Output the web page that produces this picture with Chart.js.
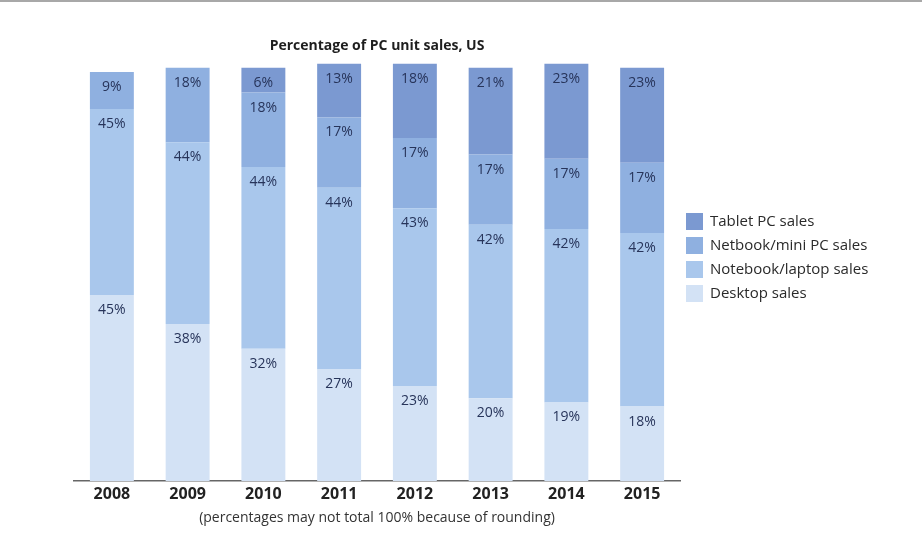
<!DOCTYPE html>
<html>
<head>
<meta charset="utf-8">
<script src="https://cdn.jsdelivr.net/npm/chart.js@4"></script>
<style>
  html, body { margin: 0; padding: 0; background: #fff; }
  .topline { position: absolute; left: 0; top: 0; width: 922px; height: 2px; background: #a8a8a8; }
  #wrap { width: 922px; height: 534px; }
</style>
</head>
<body>
<div class="topline"></div>
<div id="wrap"><canvas id="pcChart" width="922" height="534"></canvas></div>
<script>
// Years and shares of US PC unit sales (%), stacked bottom to top
const years = ['2008', '2009', '2010', '2011', '2012', '2013', '2014', '2015'];
const desktop = [45, 38, 32, 27, 23, 20, 19, 18];
const notebook = [45, 44, 44, 44, 43, 42, 42, 42];
const netbook = [9, 18, 18, 17, 17, 17, 17, 17];
const tablet = [null, null, 6, 13, 18, 21, 23, 23];

const seriesNames = ['Desktop sales', 'Notebook/laptop sales', 'Netbook/mini PC sales', 'Tablet PC sales'];
const seriesColors = ['#d3e2f5', '#a9c7ec', '#8fb0e0', '#7b99d1'];

const FONT = '"Open Sans", "Noto Sans", sans-serif';

// percentage text near the top of every segment
const segmentLabels = {
  id: 'segmentLabels',
  afterDatasetsDraw(chart) {
    const ctx = chart.ctx;
    ctx.save();
    ctx.font = '14px ' + FONT;
    ctx.fillStyle = '#27345a';
    ctx.textAlign = 'center';
    ctx.textBaseline = 'middle';
    chart.data.datasets.forEach((ds, i) => {
      chart.getDatasetMeta(i).data.forEach((bar, j) => {
        const v = ds.data[j];
        if (v == null) return;
        ctx.fillText(v + '%', bar.x, bar.y + 15);
      });
    });
    ctx.restore();
  }
};

// legend on the right, darkest series first
const sideLegend = {
  id: 'sideLegend',
  afterDraw(chart) {
    const ctx = chart.ctx;
    ctx.save();
    ctx.font = '15px ' + FONT;
    ctx.textBaseline = 'middle';
    ctx.textAlign = 'left';
    for (let k = 0; k < 4; k++) {
      const idx = 3 - k;
      const y = 222 + k * 24;
      ctx.fillStyle = seriesColors[idx];
      ctx.fillRect(686, y - 9, 17, 17);
      ctx.fillStyle = '#2a2a2a';
      ctx.fillText(seriesNames[idx], 710, y);
    }
    ctx.restore();
  }
};

const ctx = document.getElementById('pcChart').getContext('2d');
const pcChart = new Chart(ctx, {
  type: 'bar',
  data: {
    labels: years,
    datasets: [desktop, notebook, netbook, tablet].map((d, i) => ({
      label: seriesNames[i],
      data: d,
      backgroundColor: seriesColors[i],
      borderWidth: 0,
      barPercentage: 0.58,
      categoryPercentage: 1.0,
      clip: false,
    })),
  },
  options: {
    responsive: false,
    animation: false,
    layout: {
      padding: { left: 74, right: 242, top: 0, bottom: 4 },
    },
    plugins: {
      legend: { display: false },
      tooltip: { enabled: false },
      title: {
        display: true,
        text: 'Percentage of PC unit sales, US',
        color: '#1e1e1e',
        font: { family: FONT, size: 14, weight: 'bold' },
        padding: { top: 38, bottom: 13 },
      },
    },
    scales: {
      x: {
        stacked: true,
        grid: { display: false, drawTicks: false },
        border: { display: true, color: '#666', width: 1.5 },
        ticks: {
          color: '#222',
          padding: 4,
          font: { family: FONT, size: 16, weight: 'bold' },
        },
        title: {
          display: true,
          text: '(percentages may not total 100% because of rounding)',
          color: '#333',
          font: { family: FONT, size: 14 },
          padding: { top: 1, bottom: 4 },
        },
      },
      y: {
        stacked: true,
        display: false,
        min: 0,
        max: 100,
      },
    },
  },
  plugins: [segmentLabels, sideLegend],
});
</script>
</body>
</html>
